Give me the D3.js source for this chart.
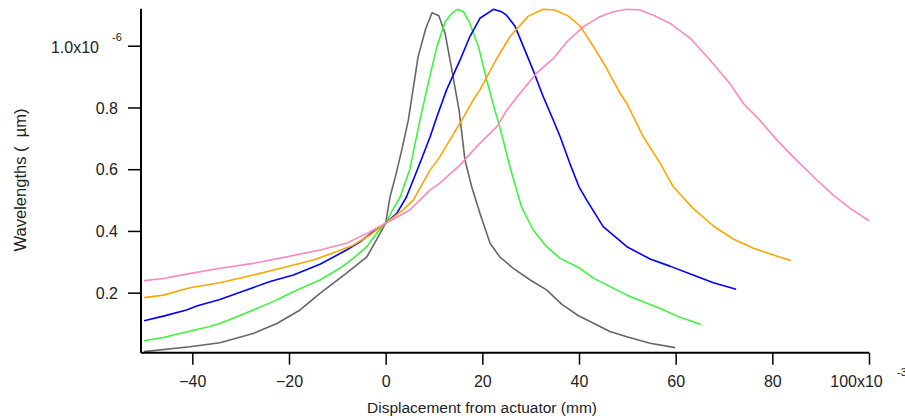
<!DOCTYPE html>
<html>
<head>
<meta charset="utf-8">
<script src="https://cdn.jsdelivr.net/npm/d3@7"></script>
<style>
  body { margin: 0; background: #fff; }
  svg { display: block; font-family: "Liberation Sans", Arial, sans-serif; }
</style>
</head>
<body>
<svg width="905" height="416"></svg>
<script>
// curve data (x in mm x10^-3, y in um x10^-6)
const grayX = [-50, -40.5, -34.3, -27.4, -22.5, -17.7, -13.6, -8.1, -3.9, -1.9, 0, 0.9, 2.0, 3.3, 4.7, 6.7, 8.3, 9.6, 11.0, 12.3, 13.7, 15.2, 16.4, 17.8, 19.5, 21.6, 23.6, 26.4, 29.9, 33.3, 36.4, 39.8, 46.4, 49.9, 54.7, 59.9];
const grayY = [0.009, 0.025, 0.038, 0.068, 0.10, 0.144, 0.198, 0.263, 0.316, 0.371, 0.425, 0.51, 0.575, 0.66, 0.76, 0.964, 1.056, 1.107, 1.097, 1.04, 0.921, 0.79, 0.63, 0.543, 0.457, 0.36, 0.316, 0.279, 0.241, 0.209, 0.163, 0.126, 0.074, 0.057, 0.036, 0.022];

const greenX = [-50, -46, -39.8, -37, -34.3, -30.8, -27.4, -23.3, -19.1, -13.6, -9.5, -6.7, -3.9, -1.9, 0, 1.5, 3.0, 5.0, 7.1, 8.8, 10.6, 12.3, 13.7, 14.8, 16.1, 17.4, 19.2, 20.9, 22.6, 23.6, 25.7, 28.1, 30.5, 33.3, 36.1, 40.2, 43.0, 49.9, 56.8, 60.9, 65.2];
const greenY = [0.044, 0.055, 0.078, 0.088, 0.10, 0.122, 0.144, 0.171, 0.203, 0.241, 0.279, 0.311, 0.349, 0.392, 0.425, 0.47, 0.51, 0.60, 0.76, 0.878, 0.997, 1.078, 1.105, 1.118, 1.11, 1.073, 0.997, 0.889, 0.79, 0.738, 0.608, 0.478, 0.403, 0.349, 0.311, 0.279, 0.247, 0.192, 0.149, 0.12, 0.097];

const blueX = [-50, -46, -41.2, -39.1, -34.3, -28.8, -23.9, -19.1, -13.6, -8.1, -5.3, -2.6, 0, 2.3, 4.3, 7.1, 9.2, 10.6, 12.6, 15.4, 17.4, 19.5, 22.3, 24.0, 25.0, 26.8, 28.5, 30.5, 32.6, 34.6, 36.1, 38.1, 40.0, 41.6, 45.0, 49.9, 54.7, 58.8, 63.6, 67.8, 72.5];
const blueY = [0.109, 0.124, 0.144, 0.157, 0.178, 0.209, 0.236, 0.257, 0.292, 0.338, 0.365, 0.397, 0.425, 0.457, 0.51, 0.62, 0.705, 0.77, 0.857, 0.954, 1.029, 1.089, 1.118, 1.11, 1.099, 1.062, 0.997, 0.921, 0.835, 0.762, 0.705, 0.619, 0.543, 0.50, 0.414, 0.349, 0.309, 0.286, 0.257, 0.232, 0.211];

const orangeX = [-50, -46, -40.5, -34.3, -27.4, -20.5, -15, -10.1, -6.7, -3.2, 0, 3.6, 5.7, 9.2, 11.2, 13.3, 15.5, 18.1, 19.5, 23.0, 25.7, 29.5, 32.6, 35.0, 37.8, 40.2, 43.0, 45.7, 48.5, 49.9, 53.3, 56.8, 59.5, 63.6, 67.8, 71.9, 76.1, 80.2, 83.8];
const orangeY = [0.184, 0.192, 0.216, 0.232, 0.257, 0.284, 0.306, 0.333, 0.354, 0.387, 0.425, 0.468, 0.50, 0.597, 0.64, 0.695, 0.752, 0.824, 0.857, 0.959, 1.029, 1.096, 1.118, 1.116, 1.096, 1.064, 0.997, 0.927, 0.846, 0.813, 0.705, 0.619, 0.543, 0.473, 0.416, 0.374, 0.344, 0.322, 0.304];

const pinkX = [-50, -46, -41.2, -34.3, -27.4, -20.5, -13.6, -8.1, -3.9, 0, 5.0, 9.2, 11.2, 15.4, 18.8, 23.0, 25.0, 27.8, 31.2, 34.7, 37.5, 40.9, 44.3, 47.1, 49.9, 52.6, 55.4, 58.8, 63.0, 67.1, 71.2, 74.0, 77.4, 80.9, 84.3, 89.2, 92.6, 96.1, 100];
const pinkY = [0.239, 0.246, 0.26, 0.279, 0.295, 0.316, 0.338, 0.36, 0.392, 0.425, 0.468, 0.533, 0.555, 0.614, 0.673, 0.738, 0.79, 0.846, 0.911, 0.959, 1.013, 1.062, 1.094, 1.11, 1.118, 1.116, 1.099, 1.073, 1.024, 0.954, 0.878, 0.813, 0.759, 0.695, 0.64, 0.565, 0.516, 0.473, 0.433];

const xTicks = [-40, -20, 0, 20, 40, 60, 80, 100];
const yTicks = [0.2, 0.4, 0.6, 0.8, 1.0];

const series = [
    { name: "gray", xs: grayX, ys: grayY, color: "#666666" },
    { name: "green", xs: greenX, ys: greenY, color: "#3cf53c" },
    { name: "blue", xs: blueX, ys: blueY, color: "#0000ff" },
    { name: "orange", xs: orangeX, ys: orangeY, color: "#ffa500" },
    { name: "pink", xs: pinkX, ys: pinkY, color: "#ff88bb" }
];

const svg = d3.select("svg");

// scales
const x = d3.scaleLinear().domain([-50, 100]).range([144, 869]);
const y = d3.scaleLinear().domain([0, 1.12]).range([354.4, 8.7]);

const axisLeftX = 141;
const axisBottomY = 352.7;

// lines
const line = d3.line()
    .x(d => x(d[0]))
    .y(d => y(d[1]));

svg.append("g")
  .selectAll("path")
  .data(series)
  .enter()
  .append("path")
    .attr("d", s => line(s.xs.map((v, i) => [v, s.ys[i]])))
    .attr("fill", "none")
    .attr("stroke", s => s.color)
    .attr("stroke-width", 1.6)
    .attr("stroke-linejoin", "round");

// X axis
const xAxis = svg.append("g")
    .attr("transform", `translate(0,${axisBottomY})`)
    .call(d3.axisBottom(x)
        .tickValues(xTicks)
        .tickSize(12)
        .tickPadding(11)
        .tickFormat(d => d === 100 ? "100x10" : d3.format("d")(d)));
xAxis.select(".domain").remove();
xAxis.selectAll("line").attr("stroke", "#000").attr("stroke-width", 1.5);
xAxis.selectAll("text")
    .attr("fill", "#222")
    .style("font-size", "16px")
    .style("font-family", "Liberation Sans, Arial, sans-serif")
    .attr("dx", d => d === 100 ? "-13px" : null);

svg.append("line")
    .attr("x1", axisLeftX).attr("x2", x(100))
    .attr("y1", axisBottomY).attr("y2", axisBottomY)
    .attr("stroke", "#000").attr("stroke-width", 2);

svg.append("text")
    .attr("x", 897).attr("y", 376)
    .attr("fill", "#222")
    .style("font-size", "11px")
    .text("-3");

// Y axis
const yAxis = svg.append("g")
    .attr("transform", `translate(${axisLeftX},0)`)
    .call(d3.axisLeft(y)
        .tickValues(yTicks)
        .tickSize(13)
        .tickPadding(10)
        .tickFormat(d => d === 1 ? "1.0x10" : d3.format(".1f")(d)));
yAxis.select(".domain").remove();
yAxis.selectAll("line").attr("stroke", "#000").attr("stroke-width", 1.5);
yAxis.selectAll("text")
    .attr("fill", "#222")
    .style("font-size", "16px")
    .style("font-family", "Liberation Sans, Arial, sans-serif")
    .attr("dx", d => d === 1 ? "-19px" : null)
    .attr("dy", d => d === 1 ? "0.42em" : "0.36em");

svg.append("line")
    .attr("x1", axisLeftX).attr("x2", axisLeftX)
    .attr("y1", y(1.12)).attr("y2", axisBottomY)
    .attr("stroke", "#000").attr("stroke-width", 2);

svg.append("text")
    .attr("x", 112).attr("y", 41)
    .attr("fill", "#222")
    .style("font-size", "11px")
    .text("-6");

// axis titles
svg.append("text")
    .attr("x", 482)
    .attr("y", 413)
    .attr("text-anchor", "middle")
    .attr("fill", "#222")
    .style("font-size", "15.5px")
    .text("Displacement from actuator (mm)");

svg.append("text")
    .attr("transform", "translate(26,180) rotate(-90)")
    .attr("text-anchor", "middle")
    .attr("fill", "#222")
    .style("font-size", "16.5px")
    .style("white-space", "pre")
    .text("Wavelengths (  \u00b5m)");
</script>
</body>
</html>
